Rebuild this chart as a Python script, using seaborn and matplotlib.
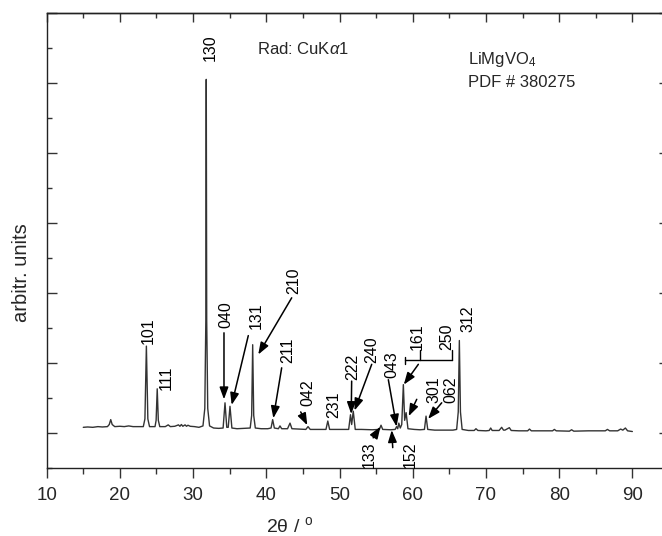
import numpy as np
import pandas as pd
import matplotlib
matplotlib.use("Agg")
import matplotlib.pyplot as plt
from matplotlib.ticker import MultipleLocator, NullFormatter
import seaborn as sns

# XRD pattern of LiMgVO4 (2theta in deg, arbitrary units)
two_theta = [15.0, 15.6, 16.3, 17.0, 17.6, 18.3, 18.55, 18.75, 18.95, 19.3,
             20.0, 20.6, 21.2, 21.8, 22.5, 23.2, 23.42, 23.62, 23.82, 24.05,
             24.8, 24.95, 25.1, 25.25, 25.45, 26.2, 26.6, 26.9, 27.5, 28.0,
             28.2, 28.4, 28.6, 28.9, 29.1, 29.3, 29.6, 30.2, 30.8, 31.35,
             31.6, 31.74, 31.8, 31.86, 32.0, 32.25, 32.8, 33.5, 34.1, 34.36,
             34.6, 34.8, 35.04, 35.3, 36.0, 37.0, 37.8, 38.0, 38.14, 38.28,
             38.5, 39.3, 40.2, 40.65, 40.87, 41.1, 41.65, 41.87, 42.1, 42.9,
             43.24, 43.5, 44.5, 45.4, 45.7, 46.0, 47.0, 48.15, 48.4, 48.65,
             49.5, 51.25, 51.5, 51.66, 51.88, 52.15, 53.0, 54.5, 55.45, 55.67,
             55.9, 57.0, 57.6, 57.8, 57.95, 58.1, 58.3, 58.5, 58.72, 58.9,
             59.1, 59.35, 60.2, 61.0, 61.6, 61.82, 62.05, 63.0, 64.5, 65.5,
             66.0, 66.22, 66.37, 66.52, 66.75, 67.6, 68.4, 68.64, 68.9, 70.0,
             70.45, 70.65, 70.85, 71.8, 72.15, 72.4, 72.6, 73.2, 73.45, 74.5,
             75.7, 75.95, 76.2, 77.5, 79.1, 79.35, 79.6, 81.4, 81.7, 82.0,
             84.0, 86.3, 86.6, 86.9, 88.0, 88.4, 88.7, 89.05, 89.35, 90.0]
intensity = [0.08, 0.085, 0.08, 0.09, 0.085, 0.09, 0.12, 0.19, 0.12, 0.09,
             0.095, 0.09, 0.10, 0.09, 0.09, 0.09, 0.2, 1.24, 0.2, 0.09,
             0.09, 0.18, 0.63, 0.18, 0.09, 0.09, 0.115, 0.09, 0.095, 0.115,
             0.095, 0.12, 0.095, 0.115, 0.095, 0.11, 0.095, 0.09, 0.08, 0.1,
             0.35, 1.6, 5.05, 1.6, 0.35, 0.1, 0.07, 0.065, 0.07, 0.43,
             0.08, 0.08, 0.38, 0.07, 0.06, 0.065, 0.07, 0.25, 1.26, 0.25,
             0.07, 0.06, 0.06, 0.07, 0.19, 0.07, 0.06, 0.10, 0.06, 0.06,
             0.14, 0.06, 0.055, 0.05, 0.09, 0.05, 0.05, 0.05, 0.17, 0.05,
             0.05, 0.05, 0.26, 0.12, 0.31, 0.05, 0.05, 0.045, 0.05, 0.11,
             0.05, 0.045, 0.05, 0.09, 0.06, 0.14, 0.07, 0.12, 0.69, 0.18,
             0.29, 0.06, 0.05, 0.045, 0.05, 0.24, 0.05, 0.04, 0.04, 0.04,
             0.05, 0.3, 1.32, 0.3, 0.05, 0.035, 0.035, 0.06, 0.035, 0.03,
             0.035, 0.07, 0.035, 0.035, 0.08, 0.04, 0.04, 0.075, 0.035, 0.03,
             0.03, 0.055, 0.03, 0.03, 0.03, 0.05, 0.03, 0.025, 0.045, 0.025,
             0.03, 0.03, 0.05, 0.03, 0.03, 0.055, 0.04, 0.07, 0.03, 0.02]

# Miller indices written above (or below) the reflections
hkl_labels = ["130", "101", "111", "040", "131", "210", "211", "042", "231",
              "222", "240", "043", "161", "250", "301", "062", "312", "133", "152"]

df = pd.DataFrame({"two_theta": two_theta, "intensity": intensity})

sns.set_style("ticks")
plt.rcParams["font.family"] = ["Liberation Sans", "DejaVu Sans"]
plt.rcParams["mathtext.fontset"] = "custom"
plt.rcParams["mathtext.rm"] = "Liberation Sans"
plt.rcParams["mathtext.it"] = "Liberation Sans:italic"

fig = plt.figure(figsize=(6.62, 5.36), dpi=100)
ax = fig.add_axes([0.0705, 0.127, 0.940, 0.849])

sns.lineplot(data=df, x="two_theta", y="intensity", ax=ax, color="#333333",
             linewidth=1.0, estimator=None, sort=False)

ax.set_xlim(10, 95)
ax.set_ylim(-0.5, 6.0)
ax.xaxis.set_major_locator(MultipleLocator(10))
ax.xaxis.set_minor_locator(MultipleLocator(5))
ax.yaxis.set_major_locator(MultipleLocator(1))
ax.yaxis.set_minor_locator(MultipleLocator(0.5))
ax.tick_params(axis="x", which="both", direction="out", bottom=True, top=False,
               labelsize=13.5, pad=7, width=1, color="#333333")
ax.tick_params(axis="x", which="major", length=7)
ax.tick_params(axis="x", which="minor", length=4)
ax.tick_params(axis="y", which="both", direction="in", left=True, right=True,
               labelleft=False, width=1, color="#333333")
ax.tick_params(axis="y", which="major", length=7)
ax.tick_params(axis="y", which="minor", length=3.5)

top = ax.secondary_xaxis("top")
top.xaxis.set_major_locator(MultipleLocator(10))
top.xaxis.set_minor_locator(MultipleLocator(5))
top.xaxis.set_major_formatter(NullFormatter())
top.tick_params(axis="x", which="both", direction="in", width=1, color="#333333")
top.tick_params(axis="x", which="major", length=6.5)
top.tick_params(axis="x", which="minor", length=3.5)

for s in ax.spines.values():
    s.set_linewidth(1.0)
    s.set_color("#222222")
top.spines["top"].set_linewidth(1.0)

ax.set_xlabel("2θ / $^{\\mathrm{o}}$", fontsize=14)
ax.xaxis.set_label_coords(0.391, -0.105)
ax.set_ylabel("arbitr. units", fontsize=14.5)
ax.yaxis.set_label_coords(-0.025, 0.43)

# label positions: (x, y, va), arrow tail and head (None if no arrow)
label_pos = [
    (32.3, 5.31, "bottom", None, None),
    (23.9, 1.27, "bottom", None, None),
    (26.3, 0.62, "bottom", None, None),
    (34.5, 1.50, "bottom", (34.22, 1.43), (34.22, 0.48)),
    (38.6, 1.48, "bottom", (37.54, 1.39), (35.27, 0.40)),
    (43.8, 1.98, "bottom", (43.47, 1.93), (38.9, 1.12)),
    (42.9, 1.00, "bottom", (42.1, 0.93), (40.96, 0.21)),
    (45.63, 0.38, "bottom", (44.7, 0.30), (45.6, 0.11)),
    (49.25, 0.21, "bottom", None, None),
    (51.78, 0.76, "bottom", (51.66, 0.74), (51.6, 0.27)),
    (54.4, 1.00, "bottom", (54.4, 0.98), (52.05, 0.32)),
    (57.13, 0.79, "bottom", (56.67, 0.76), (57.8, 0.09)),
    (60.6, 1.19, "bottom", (60.77, 0.98), (58.78, 0.69)),
    (64.64, 1.19, "bottom", (60.55, 0.48), (59.45, 0.24)),
    (62.9, 0.43, "bottom", None, None),
    (65.2, 0.43, "bottom", (63.96, 0.43), (62.1, 0.20)),
    (67.5, 1.44, "bottom", None, None),
    (54.0, -0.12, "top", (54.6, -0.07), (55.6, 0.09)),
    (59.6, -0.12, "top", (57.27, -0.21), (57.13, 0.04)),
]

arrow_kw = dict(arrowstyle="-|>,head_length=0.6,head_width=0.22", color="black",
                lw=1.1, shrinkA=0, shrinkB=0, mutation_scale=12)
for lab, (tx, ty, va, tail, head) in zip(hkl_labels, label_pos):
    ax.text(tx, ty, lab, rotation=90, ha="center", va=va, fontsize=11.5,
            color="black")
    if tail is not None:
        ax.annotate("", xy=head, xytext=tail, arrowprops=arrow_kw)

# bracket joining 161 and 250
ax.plot([58.95, 65.33], [1.04, 1.04], color="black", lw=1.0)
ax.plot([58.95, 58.95], [0.99, 1.09], color="black", lw=1.0)
ax.plot([61.0, 61.0], [1.04, 1.19], color="black", lw=1.0)
ax.plot([65.33, 65.33], [1.04, 1.19], color="black", lw=1.0)

ax.text(38.7, 5.49, r"Rad: CuK$\alpha$1", fontsize=12, va="center", ha="left")
ax.text(67.6, 5.34, r"LiMgVO$_4$", fontsize=12, va="center", ha="left")
ax.text(67.6, 5.0, "PDF # 380275", fontsize=12, va="center", ha="left")

fig.savefig("out.png", dpi=100)
